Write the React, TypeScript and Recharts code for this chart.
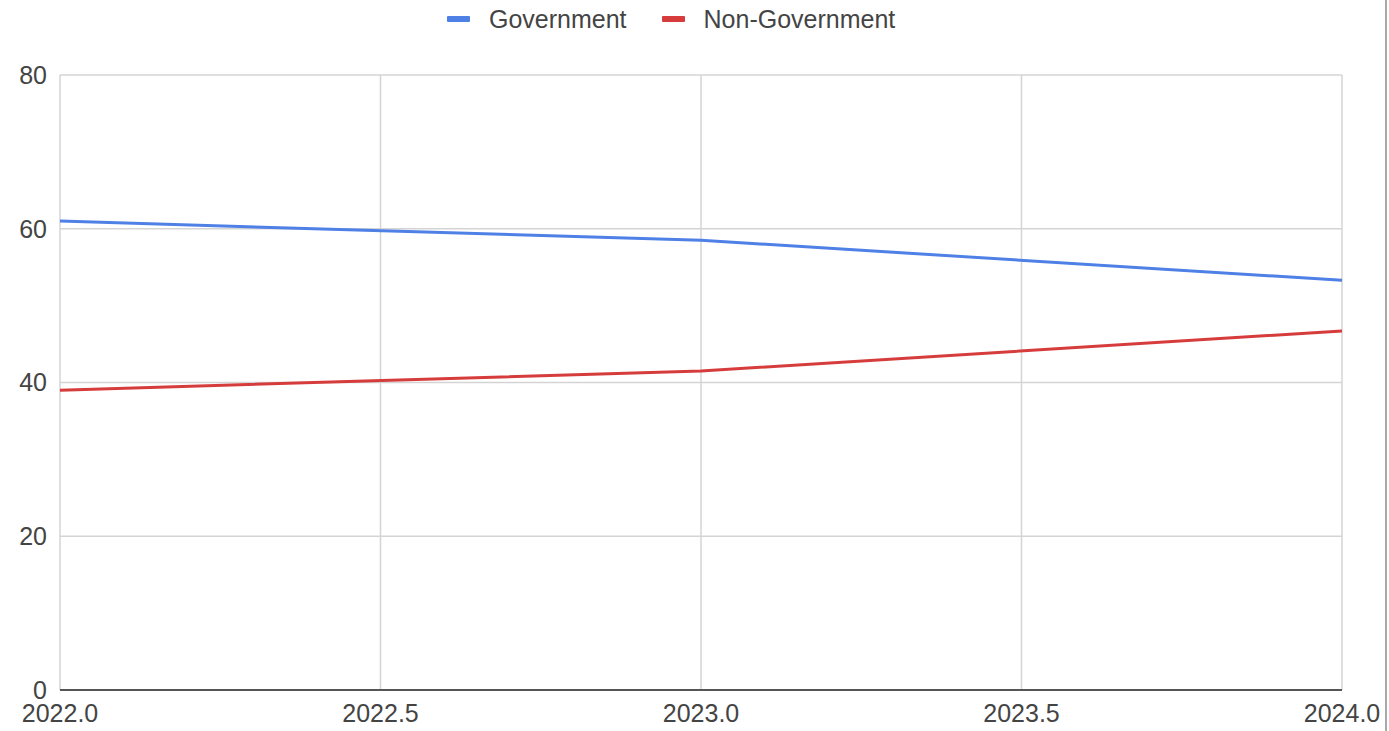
import React from "react";
import { LineChart, Line, XAxis, YAxis, CartesianGrid, Legend } from "recharts";

const years = [2022, 2023, 2024];
const government = [61, 58.5, 53.3];
const nonGovernment = [39, 41.5, 46.7];
const xTicks = [2022, 2022.5, 2023, 2023.5, 2024];
const yTicks = [0, 20, 40, 60, 80];

const series = [
  { key: "gov", name: "Government", color: "#4f80e6", values: government },
  { key: "nongov", name: "Non-Government", color: "#d63c3c", values: nonGovernment },
];

const data = years.map((year, i) => ({
  year,
  gov: government[i],
  nongov: nonGovernment[i],
}));

const FONT = "'Liberation Sans', Arial, sans-serif";

function LegendContent() {
  return (
    <div style={{ display: "flex", alignItems: "center", height: 30, fontFamily: FONT, fontSize: 25, color: "#444" }}>
      {series.map((s, i) => (
        <div key={s.key} style={{ display: "flex", alignItems: "center", marginLeft: i === 0 ? 0 : 35 }}>
          <span style={{ display: "inline-block", width: 23, height: 6, background: s.color, borderRadius: 1, marginRight: 19 }} />
          <span>{s.name}</span>
        </div>
      ))}
    </div>
  );
}

export default function App() {
  return (
    <div style={{ position: "absolute", left: 0, top: 0, width: 1389, height: 731, background: "#fff" }}>
      <LineChart width={1389} height={731} data={data} margin={{ top: 45, right: 47, bottom: 0, left: 0 }}>
        <CartesianGrid stroke="#d4d4d4" strokeWidth={1.5} />
        <XAxis
          dataKey="year"
          type="number"
          domain={[2022, 2024]}
          ticks={xTicks}
          tickFormatter={(v: number) => v.toFixed(1)}
          interval={0}
          tickSize={0}
          tickMargin={14}
          axisLine={{ stroke: "#555", strokeWidth: 2 }}
          tick={{ fill: "#444", fontSize: 25, fontFamily: FONT }}
          height={41}
        />
        <YAxis
          type="number"
          domain={[0, 80]}
          ticks={yTicks}
          interval={0}
          width={60}
          tickSize={0}
          tickMargin={13}
          axisLine={false}
          tick={{ fill: "#444", fontSize: 25, fontFamily: FONT }}
        />
        <Legend
          verticalAlign="top"
          content={<LegendContent />}
          wrapperStyle={{ top: 4, left: 447, width: "auto", height: 30 }}
        />
        {series.map((s) => (
          <Line
            key={s.key}
            type="linear"
            dataKey={s.key}
            name={s.name}
            stroke={s.color}
            strokeWidth={3}
            dot={false}
            activeDot={false}
            isAnimationActive={false}
          />
        ))}
      </LineChart>
      <div style={{ position: "absolute", left: 1385, top: 0, width: 2, height: 731, background: "#a8a8a8" }} />
    </div>
  );
}
